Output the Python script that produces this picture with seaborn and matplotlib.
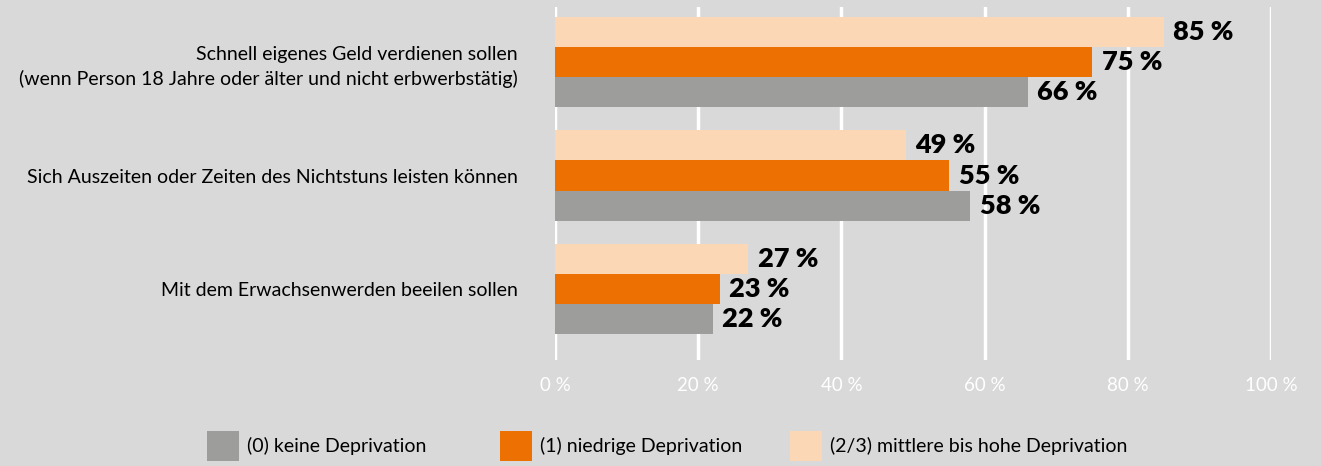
import matplotlib
matplotlib.use("Agg")
import matplotlib.pyplot as plt
from matplotlib.patches import Patch
import seaborn as sns
import pandas as pd

categories = [
    "Schnell eigenes Geld verdienen sollen\n(wenn Person 18 Jahre oder älter und nicht erbwerbstätig)",
    "Sich Auszeiten oder Zeiten des Nichtstuns leisten können",
    "Mit dem Erwachsenwerden beeilen sollen",
]
groups = ["(0) keine Deprivation", "(1) niedrige Deprivation", "(2/3) mittlere bis hohe Deprivation"]
vals_keine = [66, 58, 22]
vals_niedrig = [75, 55, 23]
vals_hoch = [85, 49, 27]
xticks = [0, 20, 40, 60, 80, 100]
xtick_labels = ["0 %", "20 %", "40 %", "60 %", "80 %", "100 %"]

colors = {groups[0]: "#9d9d9c", groups[1]: "#ed7003", groups[2]: "#fcd7b6"}
bg = "#d9d9d9"

rows = []
for g, vals in zip(groups, [vals_keine, vals_niedrig, vals_hoch]):
    for c, v in zip(categories, vals):
        rows.append({"cat": c, "group": g, "val": v})
df = pd.DataFrame(rows)

sns.set_theme(style="white")
plt.rcParams["font.family"] = ["Lato", "DejaVu Sans"]

fig = plt.figure(figsize=(13.21, 4.66), dpi=100, facecolor=bg)
ax = fig.add_axes([555 / 1321, 1 - 360 / 466, (1271 - 555) / 1321, (360 - 7) / 466])
ax.set_facecolor(bg)

hue_order = [groups[2], groups[1], groups[0]]
sns.barplot(data=df, y="cat", x="val", hue="group", hue_order=hue_order,
            order=categories, palette=colors, orient="h", width=0.8,
            saturation=1, legend=False, ax=ax, zorder=3, linewidth=0,
            edgecolor="none")

for cont in ax.containers:
    labels = [f"{int(round(b.get_width()))} %" for b in cont]
    ax.bar_label(cont, labels=labels, padding=7, fontsize=19.5,
                 fontweight="heavy", color="#000000")

ax.set_xlim(0, 100)
ax.set_ylim(2.626, -0.485)
ax.set_xticks(xticks)
ax.set_xticklabels(xtick_labels, color="white", fontsize=13.5)
ax.tick_params(axis="x", length=0, pad=12)
ax.tick_params(axis="y", length=0, pad=27, labelsize=14, labelcolor="#000000")
for lab in ax.get_yticklabels():
    lab.set_multialignment("right")
    lab.set_linespacing(1.45)
ax.xaxis.grid(True, color="white", linewidth=2.5, zorder=0)
ax.set_axisbelow(True)
for s in ax.spines.values():
    s.set_visible(False)
ax.set_xlabel("")
ax.set_ylabel("")

legend_x = [207, 500, 790]
for g, lx in zip(groups, legend_x):
    fig.legend([Patch(facecolor=colors[g], edgecolor="none")], [g],
               loc="center left", bbox_to_anchor=(lx / 1321, 1 - 446 / 466),
               frameon=False, fontsize=14, handlelength=1.65, handleheight=2.0,
               handletextpad=0.4, borderpad=0, borderaxespad=0,
               labelcolor="#000000")

fig.savefig("out.png", dpi=100, facecolor=bg)
